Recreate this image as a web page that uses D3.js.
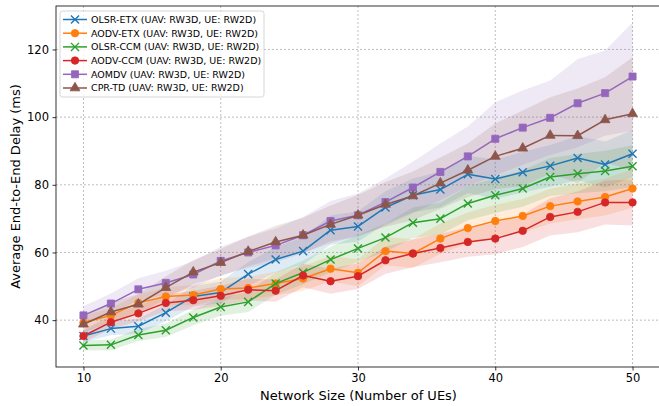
<!DOCTYPE html>
<html>
<head>
<meta charset="utf-8">
<script src="https://cdn.jsdelivr.net/npm/d3@7"></script>
<style>
  html, body { margin: 0; padding: 0; background: #fff; }
  svg { display: block; font-family: "DejaVu Sans", sans-serif; }
</style>
</head>
<body>
<svg id="chart" width="659" height="406"></svg>
<script>
// Network sizes (number of UEs)
const networkSizes = [10, 12, 14, 16, 18, 20, 22, 24, 26, 28, 30, 32, 34, 36, 38, 40, 42, 44, 46, 48, 50];

// Mean end-to-end delay (ms) per protocol
const olsrEtx = [35.3, 37.5, 38.2, 42.2, 47.0, 48.2, 53.6, 57.9, 60.4, 66.6, 67.7, 73.3, 76.9, 78.6, 83.1, 81.7, 83.7, 85.6, 87.9, 86.0, 89.2];
const aodvEtx = [39.3, 41.4, 45.1, 47.0, 47.4, 49.2, 49.5, 50.8, 52.3, 55.2, 54.0, 60.4, 59.7, 64.1, 67.2, 69.3, 70.8, 73.7, 75.1, 76.4, 78.9];
const olsrCcm = [32.5, 32.7, 35.6, 37.0, 40.8, 43.9, 45.4, 50.8, 54.1, 57.9, 61.2, 64.4, 68.8, 70.0, 74.5, 76.9, 78.9, 82.3, 83.3, 84.1, 85.5];
const aodvCcm = [35.3, 39.4, 42.0, 45.1, 45.9, 47.2, 49.0, 48.7, 53.2, 51.5, 53.0, 57.7, 59.7, 61.3, 63.1, 64.1, 66.4, 70.5, 72.0, 74.8, 74.8];
const aomdv   = [41.4, 44.9, 49.1, 51.0, 53.5, 57.5, 60.0, 62.1, 65.1, 69.3, 71.0, 74.9, 79.2, 83.8, 88.4, 93.6, 96.9, 99.8, 104.1, 107.1, 112.0];
const cprTd   = [38.8, 42.4, 44.7, 49.6, 54.2, 57.0, 60.3, 63.1, 65.1, 68.3, 71.0, 74.2, 76.7, 80.5, 84.3, 88.4, 90.8, 94.6, 94.5, 99.2, 101.0];

// Standard deviation (ms) per protocol, shown as shaded bands
const olsrEtxStd = [1.8, 2.0, 2.2, 2.5, 3.0, 3.2, 3.5, 3.8, 4.0, 4.3, 4.5, 4.8, 5.0, 5.3, 5.5, 5.8, 6.0, 6.2, 6.5, 6.8, 7.0];
const aodvEtxStd = [2.0, 2.2, 2.5, 2.7, 3.0, 3.2, 3.3, 3.5, 3.6, 3.8, 4.0, 4.2, 4.3, 4.5, 4.6, 4.8, 5.0, 5.1, 5.3, 5.5, 5.7];
const olsrCcmStd = [1.5, 1.6, 1.8, 2.0, 2.3, 2.6, 3.0, 3.3, 3.5, 3.8, 4.0, 4.2, 4.5, 4.7, 5.0, 5.2, 5.4, 5.6, 5.8, 6.0, 6.2];
const aodvCcmStd = [1.8, 2.0, 2.3, 2.5, 2.8, 3.0, 3.2, 3.3, 3.5, 3.7, 3.8, 4.0, 4.1, 4.2, 4.4, 4.6, 4.8, 5.5, 6.0, 6.5, 6.8];
const aomdvStd   = [2.7, 3.0, 3.3, 3.6, 3.9, 4.2, 4.6, 5.0, 5.4, 5.9, 6.4, 7.0, 7.6, 8.4, 8.8, 10.8, 11.0, 11.0, 13.0, 12.6, 16.0];
const cprTdStd   = [2.5, 2.8, 3.0, 3.3, 3.6, 4.0, 4.4, 4.8, 5.2, 5.6, 6.0, 6.6, 7.2, 7.6, 7.9, 9.7, 11.2, 11.3, 14.0, 12.6, 16.7];

const seriesNames = [
  "OLSR-ETX (UAV: RW3D, UE: RW2D)",
  "AODV-ETX (UAV: RW3D, UE: RW2D)",
  "OLSR-CCM (UAV: RW3D, UE: RW2D)",
  "AODV-CCM (UAV: RW3D, UE: RW2D)",
  "AOMDV (UAV: RW3D, UE: RW2D)",
  "CPR-TD (UAV: RW3D, UE: RW2D)"
];
const xTicks = [10, 20, 30, 40, 50];
const yTicks = [40, 60, 80, 100, 120];

const colors = ["#1f77b4", "#ff7f0e", "#2ca02c", "#d62728", "#9467bd", "#8c564b"];
const markers = ["x", "circle", "x", "circle", "square", "triangle"];
const means = [olsrEtx, aodvEtx, olsrCcm, aodvCcm, aomdv, cprTd];
const stds = [olsrEtxStd, aodvEtxStd, olsrCcmStd, aodvCcmStd, aomdvStd, cprTdStd];

const series = seriesNames.map((name, i) => ({
  name, color: colors[i], marker: markers[i],
  points: networkSizes.map((x, j) => ({ x, y: means[i][j], sd: stds[i][j] }))
}));

const svg = d3.select("#chart");
const plot = { left: 56, right: 660, top: 6, bottom: 367 };

// Axis limits padded by 5% of the data span, as in the usual autoscaling
const xMin = d3.min(networkSizes), xMax = d3.max(networkSizes);
const xPad = (xMax - xMin) * 0.05;
const lo = d3.min(series, s => d3.min(s.points, p => p.y - p.sd));
const hi = d3.max(series, s => d3.max(s.points, p => p.y + p.sd));
const yPad = (hi - lo) * 0.05;

const x = d3.scaleLinear().domain([xMin - xPad, xMax + xPad]).range([plot.left, plot.right]);
const y = d3.scaleLinear().domain([lo - yPad, hi + yPad]).range([plot.bottom, plot.top]);

svg.append("defs").append("clipPath").attr("id", "clip")
  .append("rect").attr("x", plot.left).attr("y", plot.top)
  .attr("width", plot.right - plot.left).attr("height", plot.bottom - plot.top);

// Grid
const grid = svg.append("g").attr("stroke", "#b0b0b0").attr("stroke-width", 0.9)
  .attr("stroke-dasharray", "2,2").attr("opacity", 0.9);
xTicks.forEach(t => grid.append("line").attr("x1", x(t)).attr("x2", x(t))
  .attr("y1", plot.top).attr("y2", plot.bottom));
yTicks.forEach(t => grid.append("line").attr("x1", plot.left).attr("x2", plot.right)
  .attr("y1", y(t)).attr("y2", y(t)));

const body = svg.append("g").attr("clip-path", "url(#clip)");

// Std-dev bands
const area = d3.area().x(d => x(d.x)).y0(d => y(d.y - d.sd)).y1(d => y(d.y + d.sd));
series.forEach(s => {
  body.append("path").datum(s.points).attr("d", area)
    .attr("fill", s.color).attr("fill-opacity", 0.15).attr("stroke", "none");
});

// Lines and markers
const line = d3.line().x(d => x(d.x)).y(d => y(d.y));
const symbolFor = m => {
  if (m === "circle") return d3.symbol(d3.symbolCircle, 44)();
  if (m === "square") return d3.symbol(d3.symbolSquare, 50)();
  if (m === "triangle") return d3.symbol(d3.symbolTriangle, 42)();
  return d3.symbol(d3.symbolX, 44)();
};
function drawMarker(g, m, color, cx, cy) {
  const p = g.append("path").attr("d", symbolFor(m))
    .attr("transform", `translate(${cx},${cy})`);
  if (m === "x") p.attr("fill", "none").attr("stroke", color).attr("stroke-width", 1.4);
  else p.attr("fill", color).attr("stroke", color).attr("stroke-width", 0.8);
}
series.forEach(s => {
  const g = body.append("g");
  g.append("path").datum(s.points).attr("d", line)
    .attr("fill", "none").attr("stroke", s.color).attr("stroke-width", 1.5)
    .attr("stroke-linejoin", "round");
  s.points.forEach(p => drawMarker(g, s.marker, s.color, x(p.x), y(p.y)));
});

// Axes
const xAxis = svg.append("g").attr("transform", `translate(0,${plot.bottom})`)
  .call(d3.axisBottom(x).tickValues(xTicks).tickSize(3.5).tickPadding(3.5).tickFormat(d3.format("d")));
const yAxis = svg.append("g").attr("transform", `translate(${plot.left},0)`)
  .call(d3.axisLeft(y).tickValues(yTicks).tickSize(3.5).tickPadding(3.5).tickFormat(d3.format("d")));
[xAxis, yAxis].forEach(a => {
  a.select(".domain").remove();
  a.selectAll("line").attr("stroke", "#000").attr("stroke-width", 0.8);
  a.selectAll("text").attr("fill", "#000").attr("font-size", 11.5)
    .attr("font-family", "DejaVu Sans, sans-serif");
});

// Frame
svg.append("rect").attr("x", plot.left).attr("y", plot.top)
  .attr("width", plot.right - plot.left).attr("height", plot.bottom - plot.top)
  .attr("fill", "none").attr("stroke", "#000").attr("stroke-width", 0.8);

// Axis titles
svg.append("text").attr("x", 358.5).attr("y", 400)
  .attr("text-anchor", "middle").attr("font-size", 13).attr("fill", "#000")
  .text("Network Size (Number of UEs)");
svg.append("text").attr("transform", `translate(20,${(plot.top + plot.bottom) / 2}) rotate(-90)`)
  .attr("text-anchor", "middle").attr("font-size", 13).attr("fill", "#000")
  .text("Average End-to-End Delay (ms)");

// Legend
const lg = svg.append("g").attr("transform", "translate(60,11)");
lg.append("rect").attr("x", 0).attr("y", 0).attr("width", 204).attr("height", 86)
  .attr("rx", 2.5).attr("fill", "#fff").attr("fill-opacity", 0.8)
  .attr("stroke", "#cccccc").attr("stroke-width", 0.8);
series.forEach((s, i) => {
  const cy = 8.5 + i * 13.7;
  lg.append("line").attr("x1", 3).attr("x2", 27).attr("y1", cy).attr("y2", cy)
    .attr("stroke", s.color).attr("stroke-width", 1.5);
  drawMarker(lg, s.marker, s.color, 15, cy);
  lg.append("text").attr("x", 31).attr("y", cy).attr("dy", "0.35em")
    .attr("font-size", 9.5).attr("fill", "#000").text(s.name);
});
</script>
</body>
</html>
